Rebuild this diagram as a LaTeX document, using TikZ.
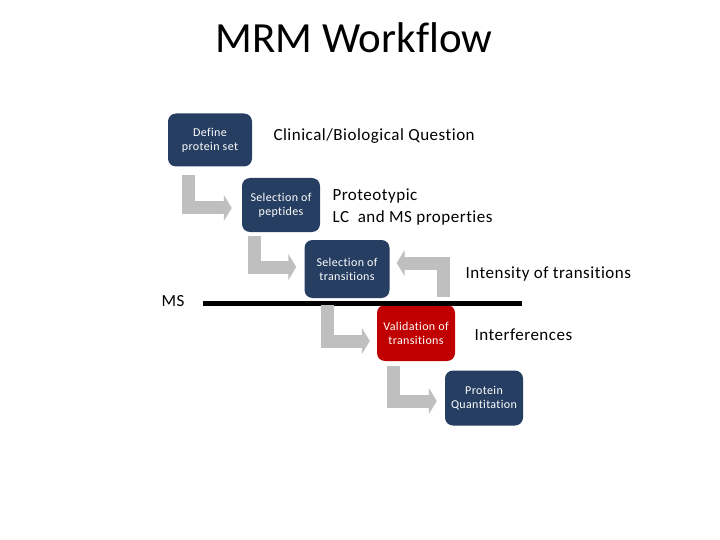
\documentclass[tikz,border=0pt]{standalone}
\usepackage{fontspec}
\setmainfont{Carlito}[Ligatures=NoCommon]
\newfontfamily\spacedfont{Carlito}[Ligatures=NoCommon,LetterSpace=3]
\usetikzlibrary{arrows.meta,positioning}
\definecolor{stepblue}{RGB}{38,62,97}
\definecolor{stepred}{RGB}{192,0,0}
\definecolor{flowgray}{RGB}{191,191,191}
\tikzset{
  stepbox/.style={draw=none,fill=stepblue,rounded corners=8pt,text=white,align=center,
    font=\spacedfont\fontsize{12}{14}\selectfont,minimum width=80pt,minimum height=54pt,inner sep=2pt},
  flow/.style={draw=flowgray,line width=13pt,-{Triangle[width=26pt,length=8pt]}},
  note/.style={anchor=west,font=\spacedfont\fontsize{17}{22}\selectfont,align=left}
}
\begin{document}
\begin{tikzpicture}[x=1pt,y=1pt]
  \useasboundingbox (0,0) rectangle (720,-540);
  \node[font=\fontsize{43}{50}\selectfont] (title) at (354,-38) {MRM Workflow};
  % workflow steps
  \node[stepbox,minimum width=84pt,minimum height=53pt] (define) at (210,-140) {Define\\protein set};
  \node[stepbox,minimum width=78pt] (peptides) at (281,-205) {Selection of\\peptides};
  \node[stepbox,minimum width=85pt,minimum height=58pt] (transitions) at (347,-269) {Selection of\\transitions};
  \node[stepbox,fill=stepred,minimum width=78pt,minimum height=56pt] (validation) at (416,-333) {Validation of\\transitions};
  \node[stepbox,minimum width=78pt,minimum height=55pt] (quant) at (484,-398) {Protein\\Quantitation};
  % notes
  \node[note] (question) at (270,-136) {Clinical/Biological Question};
  \node[note] (proteo) at (329,-207) {Proteotypic\\LC\ \ and MS properties};
  \node[note] (intensity) at (462,-274) {Intensity of transitions};
  \node[note] (interf) at (471,-335) {Interferences};
  \node[note,anchor=center] (ms) at (173,-301) {MS};
  % MS line
  \coordinate (msl) at (203,-303);
  \coordinate (msr) at (522,-303);
  \draw[line width=5pt] (msl) -- (msr);
  % gray bent arrows
  \draw[flow] ([xshift=21pt,yshift=-8pt]define.south west) |- ([xshift=-10pt,yshift=-3pt]peptides.west);
  \draw[flow] ([xshift=13pt,yshift=-4pt]peptides.south west) |- ([xshift=-8pt,yshift=2pt]transitions.west);
  \coordinate (back) at (443,-297);
  \draw[flow] (back) |- ([xshift=7pt,yshift=6pt]transitions.east);
  \draw[flow] ([xshift=-20pt,yshift=-7pt]transitions.south) |- ([xshift=-7pt,yshift=-8pt]validation.west);
  \draw[flow] ([xshift=17pt,yshift=-5pt]validation.south west) |- ([xshift=-8pt,yshift=-3pt]quant.west);
\end{tikzpicture}
\end{document}
